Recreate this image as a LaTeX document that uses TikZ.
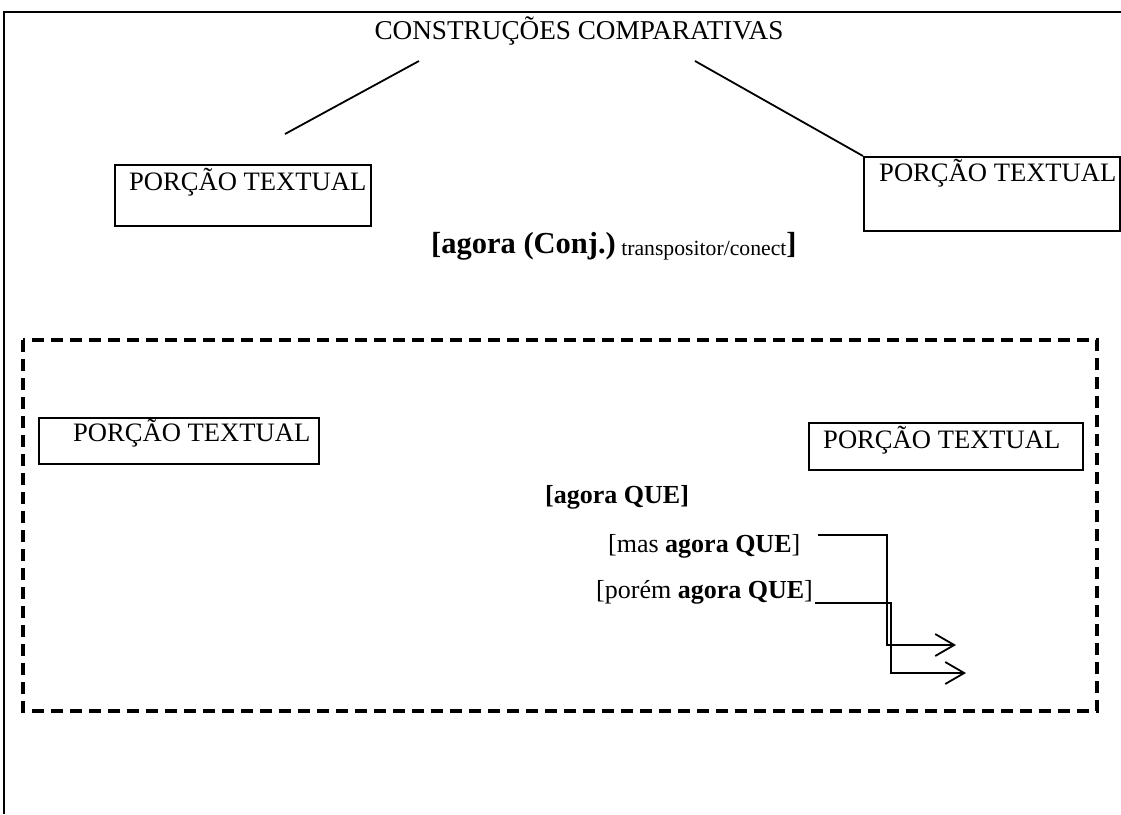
\documentclass[tikz,border=0pt]{standalone}
\usepackage{fontspec}
\setmainfont{Liberation Serif}
\usetikzlibrary{arrows.meta}

\begin{document}
\begin{tikzpicture}[x=1pt,y=-1pt,
  line/.style={line width=1.8pt},
  boxframe/.style={draw,line width=1.8pt,rectangle,inner sep=0pt,anchor=north west},
  label/.style={inner sep=0pt,anchor=base west,font=\fontsize{26.6}{32}\selectfont},
  dashframe/.style={line width=3.6pt,dash pattern=on 12pt off 7pt},
  arr/.style={line width=1.8pt,-{Straight Barb[length=19pt,width=22pt,line width=1.8pt]}}]
\useasboundingbox (0,0) rectangle (1121,814);

% outer frame (top and left edges)
\coordinate (ftl) at (4,12);
\coordinate (ftr) at (1121,12);
\coordinate (fbl) at (4,814);
\draw[line] (ftr) -- (ftl) -- (fbl);

% title
\node[label,anchor=base,font=\fontsize{27.2}{32}\selectfont] (title) at (579,39) {CONSTRUÇÕES COMPARATIVAS};

% upper text portions
\node[boxframe,minimum width=256pt,minimum height=61pt] (boxL) at (114,164) {};
\node[label] (boxLt) at (129,190) {PORÇÃO TEXTUAL};
\node[boxframe,minimum width=256pt,minimum height=74pt] (boxR) at (863,156) {};
\node[label] (boxRt) at (879,181) {PORÇÃO TEXTUAL};

% branches from the title
\coordinate (bl0) at (419,61);
\coordinate (bl1) at (285,134);
\coordinate (br0) at (695,61);
\draw[line] (bl0) -- (bl1);
\draw[line] (br0) -- (boxR.north west);

% connective
\node[inner sep=0pt,anchor=base west] (conj) at (431,253)
  {{\fontsize{30.5}{36}\selectfont\bfseries [agora (Conj.)}{\fontsize{21.7}{26}\selectfont\raisebox{-2pt}{ transpositor/conect}}{\fontsize{30.5}{36}\selectfont\bfseries ]}};

% dashed region
\coordinate (d0) at (23,340);
\coordinate (d1) at (1097,711);
\draw[dashframe] (d0) rectangle (d1);

% lower text portions
\node[boxframe,minimum width=280pt,minimum height=46pt] (boxLL) at (38,417) {};
\node[label] (boxLLt) at (73,441) {PORÇÃO TEXTUAL};
\node[boxframe,minimum width=274pt,minimum height=47pt] (boxRL) at (808,422) {};
\node[label] (boxRLt) at (823,448) {PORÇÃO TEXTUAL};

% constructions
\node[label,font=\fontsize{26}{31}\selectfont\bfseries] (aq) at (545,503) {[agora QUE]};
\node[label,font=\fontsize{26}{31}\selectfont] (mas) at (608,552) {[mas \textbf{agora QUE}]};
\node[label,font=\fontsize{26}{31}\selectfont] (porem) at (596,598) {[porém \textbf{agora QUE}]};

% arrows
\coordinate (m0) at (818,535);
\coordinate (m1) at (887,535);
\coordinate (m2) at (956,645);
\coordinate (p0) at (815,603);
\coordinate (p1) at (891,603);
\coordinate (p2) at (966,673);
\draw[arr] (m0) -- (m1) |- (m2);
\draw[arr] (p0) -- (p1) |- (p2);
\end{tikzpicture}
\end{document}
